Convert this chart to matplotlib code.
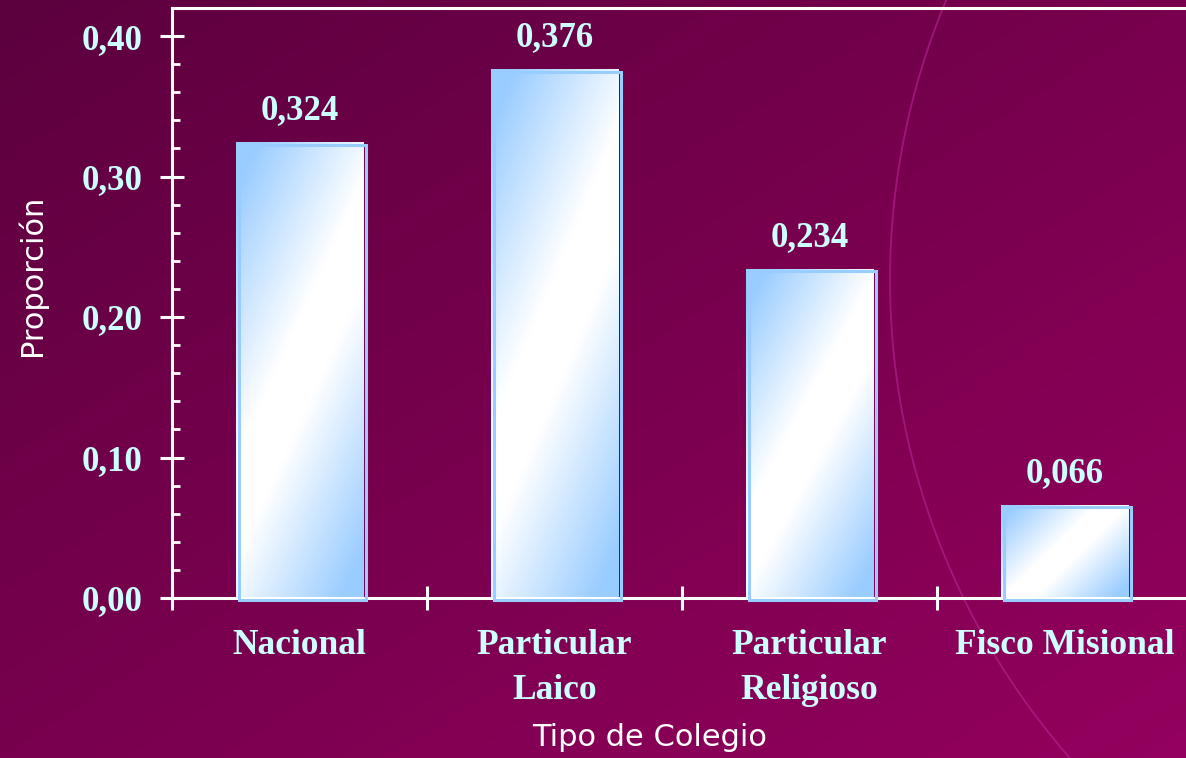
import numpy as np
import matplotlib.pyplot as plt
from matplotlib.patches import Circle, Rectangle
from matplotlib.ticker import MultipleLocator
from matplotlib.transforms import ScaledTranslation

# datos
categories = ['Nacional', 'Particular\nLaico', 'Particular\nReligioso', 'Fisco Misional']
proporcion = [0.324, 0.376, 0.234, 0.066]
value_labels = ['0,324', '0,376', '0,234', '0,066']
y_ticks = [0.0, 0.1, 0.2, 0.3, 0.4]
y_tick_labels = ['0,00', '0,10', '0,20', '0,30', '0,40']

W, H = 1186, 758
fig = plt.figure(figsize=(W / 100, H / 100), dpi=100)

# fondo degradado magenta
bg = fig.add_axes([0, 0, 1, 1], zorder=0)
yy, xx = np.mgrid[0:1:200j, 0:1:300j]
t = (xx + yy) / 2
c0 = np.array([0x5c, 0x00, 0x3e]) / 255
c1 = np.array([0x94, 0x00, 0x5e]) / 255
bg.imshow(c0 + t[..., None] * (c1 - c0), extent=[0, W, H, 0], aspect='auto', interpolation='bilinear')
bg.add_patch(Circle((1615, 280), 725, fill=False, ec='#b0208a', lw=1.3, alpha=0.7))
bg.set_xlim(0, W)
bg.set_ylim(H, 0)
bg.axis('off')

ax = fig.add_axes([172 / W, 160 / H, 1020 / W, 590 / H], zorder=1)
ax.patch.set_alpha(0)
ax.set_xlim(-0.5, 3.5)
ax.set_ylim(0, 0.42)

blue = np.array([0x99, 0xcc, 0xff]) / 255
white = np.ones(3)
bar_w = 0.5
shift = ScaledTranslation(3 / 100, -2 / 100, fig.dpi_scale_trans)


def bar_gradient(w_px, h_px):
    # degradado diagonal azul-blanco-azul, inclinacion segun forma de la barra
    k = 1.15 * np.sqrt(h_px / w_px)
    x = np.linspace(-w_px / 2, w_px / 2, 120)
    y = np.linspace(-h_px / 2, h_px / 2, 300)
    X, Y = np.meshgrid(x, y)
    s = np.abs(X + Y / k) / (w_px / 2 + h_px / (2 * k))
    m = np.clip((s - 0.14) / 0.74, 0, 1)
    return white + m[..., None] * (blue - white)


for i, h in enumerate(proporcion):
    p0 = ax.transData.transform((i - bar_w / 2, 0))
    p1 = ax.transData.transform((i + bar_w / 2, h))
    ax.imshow(bar_gradient(p1[0] - p0[0], p1[1] - p0[1]),
              extent=[i - bar_w / 2, i + bar_w / 2, 0, h], aspect='auto',
              interpolation='bilinear', zorder=2)
    ax.add_patch(Rectangle((i - bar_w / 2, 0), bar_w, h, fill=False, ec='#99ccff', lw=2.2,
                           transform=ax.transData + shift, zorder=3, clip_on=False))
    ax.annotate(value_labels[i], (i, h), xytext=(0, 11), textcoords='offset points',
                ha='center', va='bottom', fontsize=25, fontweight='bold',
                family='Liberation Serif', color='#ccffff')

ax.set_xlim(-0.5, 3.5)
ax.set_ylim(0, 0.42)

for side in ['left', 'top', 'bottom']:
    ax.spines[side].set_color('white')
    ax.spines[side].set_linewidth(2.2)
ax.spines['right'].set_visible(False)

ax.set_yticks(y_ticks, y_tick_labels, fontsize=25, fontweight='bold',
              family='Liberation Serif', color='#ccffff')
ax.yaxis.set_minor_locator(MultipleLocator(0.02))
ax.tick_params(axis='y', which='major', direction='inout', length=17, width=2.2, color='white', pad=13)
ax.tick_params(axis='y', which='minor', direction='in', length=6, width=2, color='white')

ax.set_xticks(range(4), categories, fontsize=25.5, fontweight='bold',
              family='Liberation Serif', color='#ccffff', linespacing=1.5)
ax.set_xticks([-0.5, 0.5, 1.5, 2.5], minor=True)
ax.tick_params(axis='x', which='major', length=0, pad=22)
ax.tick_params(axis='x', which='minor', direction='inout', length=17, width=2.2, color='white')

fig.text(32 / W, 1 - 275 / H, 'Proporción', rotation=90, ha='center', va='center',
         color='white', fontsize=22, family='DejaVu Sans')
fig.text(650 / W, 1 - 738 / H, 'Tipo de Colegio', ha='center', va='center',
         color='white', fontsize=22, family='DejaVu Sans')

fig.savefig('out.png', dpi=100)
